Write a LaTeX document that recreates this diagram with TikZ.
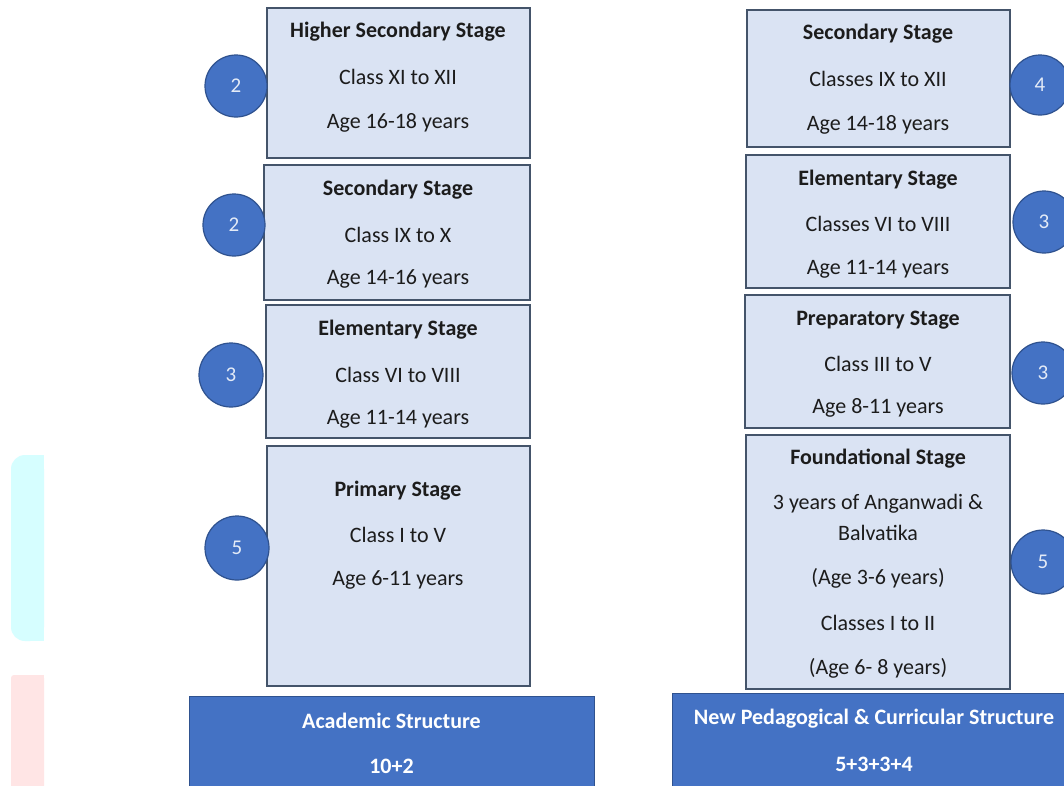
\documentclass[tikz,border=0pt]{standalone}
\usepackage{fontspec}
\setmainfont{Carlito}
\definecolor{boxfill}{HTML}{DAE3F3}
\definecolor{boxline}{HTML}{44546A}
\definecolor{blueA}{HTML}{4472C4}
\definecolor{blueB}{HTML}{2F528F}
\definecolor{numtxt}{HTML}{E4EBF7}
\definecolor{bodytxt}{HTML}{1C1C1C}
\definecolor{sidecyan}{HTML}{D6FEFF}
\definecolor{sidepink}{HTML}{FFE5E5}
\tikzset{
  stagebox/.style={draw=boxline, fill=boxfill, line width=1.4pt, inner sep=0pt},
  barbox/.style={fill=blueA, draw=blueB, line width=0.8pt, inner sep=0pt},
  numcirc/.style={circle, fill=blueA, draw=blueB, line width=1.2pt, inner sep=0pt, minimum size=62pt, text=numtxt, font=\fontsize{21}{23}\selectfont},
  ttl/.style={text=bodytxt, font=\fontsize{22}{25}\selectfont\bfseries, inner sep=0pt},
  txt/.style={text=bodytxt, font=\fontsize{22}{25}\selectfont, inner sep=0pt},
  bartxt/.style={text=white, font=\fontsize{22}{25}\selectfont\bfseries, inner sep=0pt}
}
\begin{document}
\begin{tikzpicture}[x=1pt, y=-1pt]
\useasboundingbox (0,0) rectangle (1064,785);
\clip (0,0) rectangle (1064,785);
\fill[white] (0,0) rectangle (1064,785);
% decorative side shapes
\fill[sidecyan, rounded corners=14pt] (11,455) rectangle (44,641);
\fill[sidecyan] (28,455) rectangle (44,641);
\fill[sidepink, rounded corners=3pt] (11,675) rectangle (44,800);
\fill[sidepink] (28,675) rectangle (44,800);

% left column boxes
\node[stagebox, minimum width=263pt, minimum height=150pt] (l1) at (398.5,83) {};
\node[stagebox, minimum width=266pt, minimum height=135pt] (l2) at (397,232.5) {};
\node[stagebox, minimum width=264pt, minimum height=133pt] (l3) at (398,371.5) {};
\node[stagebox, minimum width=263pt, minimum height=240pt] (l4) at (398.5,566) {};
% right column boxes
\node[stagebox, minimum width=263pt, minimum height=137pt] (r1) at (878.5,78.5) {};
\node[stagebox, minimum width=264pt, minimum height=133pt] (r2) at (878,221.5) {};
\node[stagebox, minimum width=265pt, minimum height=133pt] (r3) at (877.5,361.5) {};
\node[stagebox, minimum width=264pt, minimum height=254pt] (r4) at (878,562) {};

% bars
\node[barbox, minimum width=405pt, minimum height=94pt] (lb) at (391.5,743) {};
\node[barbox, minimum width=404pt, minimum height=97pt] (rb) at (874,741.5) {};

% left texts
\node[ttl] (l1a) at (398,32) {Higher Secondary Stage};
\node[txt] (l1b) at (398,77) {Class XI to XII};
\node[txt] (l1c) at (398,123) {Age 16-18 years};
\node[ttl] (l2a) at (398,190) {Secondary Stage};
\node[txt] (l2b) at (398,235) {Class IX to X};
\node[txt] (l2c) at (398,279) {Age 14-16 years};
\node[ttl] (l3a) at (398,330) {Elementary Stage};
\node[txt] (l3b) at (398,375) {Class VI to VIII};
\node[txt] (l3c) at (398,419) {Age 11-14 years};
\node[ttl] (l4a) at (398,491) {Primary Stage};
\node[txt] (l4b) at (398,535) {Class I to V};
\node[txt] (l4c) at (398,580) {Age 6-11 years};

% right texts
\node[ttl] (r1a) at (878,34) {Secondary Stage};
\node[txt] (r1b) at (878,79) {Classes IX to XII};
\node[txt] (r1c) at (878,125) {Age 14-18 years};
\node[ttl] (r2a) at (878,180) {Elementary Stage};
\node[txt] (r2b) at (878,224) {Classes VI to VIII};
\node[txt] (r2c) at (878,269) {Age 11-14 years};
\node[ttl] (r3a) at (878,320) {Preparatory Stage};
\node[txt] (r3b) at (878,364) {Class III to V};
\node[txt] (r3c) at (878,408) {Age 8-11 years};
\node[ttl] (r4a) at (878,459) {Foundational Stage};
\node[txt] (r4b) at (878,504) {3 years of Anganwadi \&};
\node[txt] (r4c) at (878,533) {Balvatika};
\node[txt] (r4d) at (878,578) {(Age 3-6 years)};
\node[txt] (r4e) at (878,623) {Classes I to II};
\node[txt] (r4f) at (878,668) {(Age 6- 8 years)};

% bar texts
\node[bartxt] (lba) at (391.5,721) {Academic Structure};
\node[bartxt] (lbb) at (391.5,766) {10+2};
\node[bartxt] (rba) at (874,719) {New Pedagogical \& Curricular Structure};
\node[bartxt] (rbb) at (874,764) {5+3+3+4};

% circles
\node[numcirc] (lc1) at (236,86) {2};
\node[numcirc] (lc2) at (234,225) {2};
\node[numcirc, minimum size=64pt] (lc3) at (231,375) {3};
\node[numcirc, minimum size=64pt] (lc4) at (237,548) {5};
\node[numcirc, minimum size=60pt] (rc1) at (1040,85) {4};
\node[numcirc] (rc2) at (1044,222) {3};
\node[numcirc] (rc3) at (1043,373) {3};
\node[numcirc, minimum size=64pt] (rc4) at (1043,562) {5};
\end{tikzpicture}
\end{document}
